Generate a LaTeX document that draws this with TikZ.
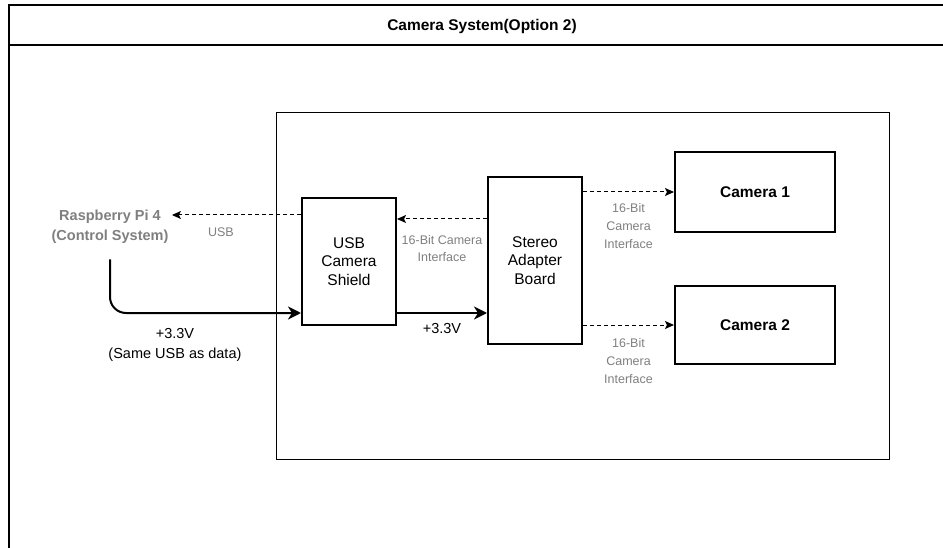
\documentclass[tikz,border=0pt]{standalone}
\usepackage{fontspec}
\setmainfont{Liberation Sans}
\usetikzlibrary{arrows.meta,positioning}
\definecolor{lblgray}{HTML}{7F7F7F}

\begin{document}
\begin{tikzpicture}[x=1pt,y=-1pt,>=Stealth,
  block/.style={draw,line width=2pt,inner sep=0pt,align=center,
    font=\fontsize{15.5}{18.5}\selectfont},
  lbl/.style={text=lblgray,align=center,inner sep=0pt,
    font=\fontsize{12.5}{18}\selectfont},
  data/.style={line width=1pt,dash pattern=on 4pt off 3pt,
    -{Stealth[length=9pt,width=8pt,inset=2pt]}},
  power/.style={line width=2pt,-{Stealth[length=13pt,width=13pt,inset=4pt]}}]
  \useasboundingbox (0,0) rectangle (943,548);

  % Frame
  \draw[line width=2.5pt] (9,548) -- (9,5) -- (943,5);
  \draw[line width=2.5pt] (9,45) -- (943,45);
  \node[font=\fontsize{15.5}{18}\selectfont\bfseries] (title) at (482,26) {Camera System(Option 2)};
  \node[draw,line width=1pt,minimum width=613pt,minimum height=346pt] (group) at (582.5,286) {};

  % Boxes
  \node[block,minimum width=94pt,minimum height=127pt] (shield) at (349,261.5) {USB\\Camera\\Shield};
  \node[block,minimum width=94pt,minimum height=167pt] (stereo) at (535,260.5) {Stereo\\Adapter\\Board};
  \node[block,minimum width=160pt,minimum height=80pt,font=\fontsize{15.5}{18.5}\selectfont\bfseries] (cam1) at (755,192) {Camera 1};
  \node[block,minimum width=160pt,minimum height=78pt,font=\fontsize{15.5}{18.5}\selectfont\bfseries] (cam2) at (755,325) {Camera 2};
  \node[text=lblgray,align=center,font=\fontsize{14.5}{20}\selectfont\bfseries] (pi) at (110,227) {Raspberry Pi 4\\(Control System)};

  % Data links
  \draw[data] (shield.west |- 0,215) -- node[lbl,pos=0.62,below=12pt] {USB} (pi.east |- 0,215);
  \draw[data] (stereo.west |- 0,219) -- node[lbl,below=16pt,font=\fontsize{12.5}{17}\selectfont] {16-Bit Camera\\Interface} (shield.east |- 0,219);
  \draw[data] (stereo.east |- cam1.west) -- node[lbl,below=11pt] {16-Bit\\Camera\\Interface} (cam1.west);
  \draw[data] (stereo.east |- cam2.west) -- node[lbl,below=13pt] {16-Bit\\Camera\\Interface} (cam2.west);

  % Power
  \coordinate (shieldin) at (shield.west |- 0,313);
  \draw[power,rounded corners=16pt] (pi.south) ++(0,12) |- node[lbl,pos=0.67,below=14pt,text=black,font=\fontsize{14.5}{20}\selectfont] {+3.3V\\(Same USB as data)} (shieldin);
  \draw[power] (shield.east |- shieldin) -- node[lbl,below=9pt,text=black,font=\fontsize{14.5}{20}\selectfont] {+3.3V} (stereo.west |- shieldin);
\end{tikzpicture}
\end{document}
